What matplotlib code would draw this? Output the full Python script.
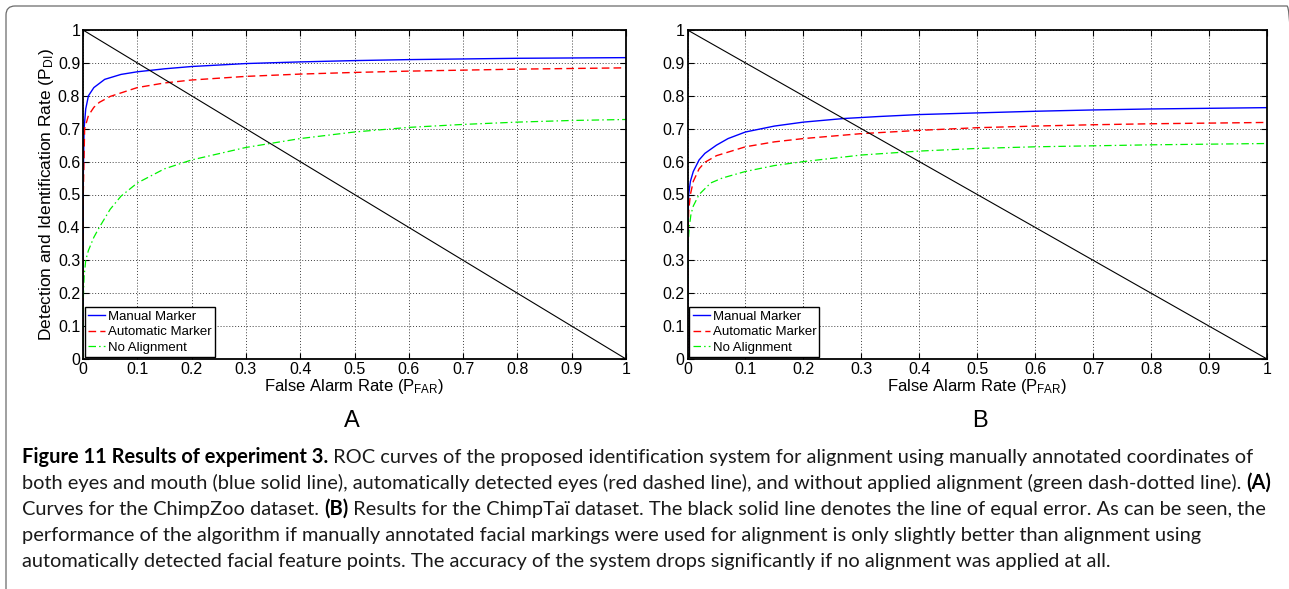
import matplotlib
matplotlib.use("Agg")
import matplotlib.pyplot as plt
import numpy as np
from matplotlib.transforms import IdentityTransform
from matplotlib.patches import FancyBboxPatch

# ---------------- data ----------------
# Panel A (ChimpZoo)
a_manual_x = [0, 0.0005, 0.002, 0.005, 0.01, 0.02, 0.04, 0.07, 0.1, 0.15, 0.2, 0.3, 0.4, 0.5, 0.6, 0.7, 0.8, 0.9, 1.0]
a_manual_y = [0, 0.55, 0.70, 0.76, 0.80, 0.825, 0.85, 0.865, 0.873, 0.882, 0.889, 0.898, 0.903, 0.907, 0.910, 0.912, 0.914, 0.915, 0.916]
a_auto_x = [0, 0.0005, 0.003, 0.01, 0.02, 0.03, 0.05, 0.1, 0.15, 0.2, 0.3, 0.4, 0.5, 0.6, 0.7, 0.8, 0.9, 1.0]
a_auto_y = [0, 0.50, 0.70, 0.74, 0.765, 0.78, 0.798, 0.825, 0.839, 0.848, 0.859, 0.866, 0.871, 0.875, 0.878, 0.881, 0.883, 0.885]
a_none_x = [0, 0.0005, 0.002, 0.005, 0.01, 0.02, 0.03, 0.05, 0.07, 0.1, 0.15, 0.2, 0.3, 0.4, 0.5, 0.6, 0.7, 0.8, 0.9, 1.0]
a_none_y = [0, 0.18, 0.25, 0.30, 0.33, 0.37, 0.40, 0.455, 0.495, 0.535, 0.578, 0.605, 0.643, 0.670, 0.690, 0.704, 0.713, 0.720, 0.725, 0.728]

# Panel B (ChimpTai)
b_manual_x = [0, 0.0005, 0.002, 0.005, 0.01, 0.02, 0.03, 0.05, 0.07, 0.1, 0.15, 0.2, 0.27, 0.33, 0.4, 0.5, 0.6, 0.7, 0.8, 0.9, 1.0]
b_manual_y = [0, 0.40, 0.50, 0.54, 0.57, 0.605, 0.625, 0.65, 0.67, 0.69, 0.708, 0.72, 0.731, 0.737, 0.743, 0.748, 0.753, 0.757, 0.760, 0.762, 0.764]
b_auto_x = [0, 0.0005, 0.002, 0.005, 0.01, 0.02, 0.03, 0.05, 0.1, 0.15, 0.2, 0.3, 0.4, 0.5, 0.6, 0.7, 0.8, 0.9, 1.0]
b_auto_y = [0, 0.35, 0.45, 0.50, 0.54, 0.578, 0.598, 0.618, 0.645, 0.660, 0.670, 0.685, 0.695, 0.703, 0.708, 0.712, 0.715, 0.717, 0.719]
b_none_x = [0, 0.0005, 0.001, 0.003, 0.006, 0.01, 0.02, 0.04, 0.06, 0.1, 0.15, 0.2, 0.3, 0.4, 0.5, 0.6, 0.7, 0.8, 0.9, 1.0]
b_none_y = [0, 0.25, 0.35, 0.40, 0.44, 0.465, 0.50, 0.535, 0.55, 0.57, 0.588, 0.60, 0.62, 0.632, 0.640, 0.645, 0.648, 0.651, 0.653, 0.655]

eer_x = [0, 1]
eer_y = [1, 0]

series_labels = ["Manual Marker", "Automatic Marker", "No Alignment"]
tick_values = [0, 0.1, 0.2, 0.3, 0.4, 0.5, 0.6, 0.7, 0.8, 0.9, 1]
tick_labels = ["0", "0.1", "0.2", "0.3", "0.4", "0.5", "0.6", "0.7", "0.8", "0.9", "1"]
panel_letters = ["A", "B"]

caption_lines = [
    [("Figure 11 Results of experiment 3.", "bold"),
     (" ROC curves of the proposed identification system for alignment using manually annotated coordinates of", "normal")],
    [("both eyes and mouth (blue solid line), automatically detected eyes (red dashed line), and without applied alignment (green dash-dotted line). ", "normal"),
     ("(A)", "bold")],
    [("Curves for the ChimpZoo dataset. ", "normal"), ("(B)", "bold"),
     (" Results for the ChimpTaï dataset. The black solid line denotes the line of equal error. As can be seen, the", "normal")],
    [("performance of the algorithm if manually annotated facial markings were used for alignment is only slightly better than alignment using", "normal")],
    [("automatically detected facial feature points. The accuracy of the system drops significantly if no alignment was applied at all.", "normal")],
]

# ---------------- style ----------------
plt.rcParams['font.family'] = ['Liberation Sans', 'DejaVu Sans']
plt.rcParams['mathtext.fontset'] = 'custom'
plt.rcParams['mathtext.rm'] = 'Liberation Sans'
plt.rcParams['mathtext.it'] = 'Liberation Sans'

W, H = 1289, 589
fig = plt.figure(figsize=(W / 100, H / 100), dpi=100)

# outer rounded frame (display coords, origin bottom-left)
frame = FancyBboxPatch((6, -20), 1290, H - 6 + 20, boxstyle="round,pad=0,rounding_size=9",
                       transform=IdentityTransform(), fill=False, edgecolor="#6a6a6a",
                       linewidth=0.9)
fig.patches.append(frame)

ax_positions = [
    [83 / W, 1 - 359 / H, (626 - 83) / W, (359 - 30) / H],
    [687.5 / W, 1 - 359 / H, (1267 - 687.5) / W, (359 - 30) / H],
]
panels = [
    (a_manual_x, a_manual_y, a_auto_x, a_auto_y, a_none_x, a_none_y),
    (b_manual_x, b_manual_y, b_auto_x, b_auto_y, b_none_x, b_none_y),
]
letter_x = [352, 980]

for i, (pos, data) in enumerate(zip(ax_positions, panels)):
    ax = fig.add_axes(pos)
    mx, my, ax_, ay, nx, ny = data
    ax.plot(mx, my, color=(0, 0, 1), lw=1.0, label=series_labels[0])
    ax.plot(ax_, ay, color=(1, 0, 0), lw=1.0, linestyle=(0, (5.5, 3)), label=series_labels[1])
    ax.plot(nx, ny, color=(0, 0.95, 0), lw=0.9, linestyle=(0, (6, 2.5, 1.2, 2.5)), label=series_labels[2])
    ax.plot(eer_x, eer_y, color="black", lw=0.8)
    ax.set_xlim(0, 1)
    ax.set_ylim(0, 1)
    ax.set_xticks(tick_values)
    ax.set_xticklabels(tick_labels)
    ax.set_yticks(tick_values)
    ax.set_yticklabels(tick_labels)
    ax.grid(True, color="0.25", linestyle=(0, (1, 2)), linewidth=0.7)
    ax.tick_params(direction="in", length=4, width=0.8, labelsize=11.5, pad=2,
                   top=True, right=True)
    for s in ax.spines.values():
        s.set_linewidth(1.3)
    ax.set_xlabel(r"False Alarm Rate (P$_{\mathrm{FAR}}$)", fontsize=12, labelpad=0)
    if i == 0:
        ax.set_ylabel(r"Detection and Identification Rate (P$_{\mathrm{DI}}$)", fontsize=12.5, labelpad=1)
    leg = ax.legend(loc="lower left", fontsize=9.5, handlelength=1.3, handletextpad=0.2,
                    labelspacing=0.25, borderpad=0.25, borderaxespad=0.15,
                    fancybox=False, framealpha=1, edgecolor="black")
    leg.get_frame().set_linewidth(1.0)
    fig.text(letter_x[i], H - 421, panel_letters[i], transform=IdentityTransform(),
             ha="center", va="center", fontsize=17)

# ---------------- caption ----------------
cap_font = ['Lato', 'DejaVu Sans']
renderer = fig.canvas.get_renderer()

def line_width(segments, size):
    total = 0
    for txt, wt in segments:
        t = fig.text(0, 0, txt, fontsize=size, fontweight=wt, family=cap_font,
                     transform=IdentityTransform())
        total += t.get_window_extent(renderer).width
        t.remove()
    return total

base = 12
w0 = max(line_width(caption_lines[k], base) for k in range(3))
cap_size = base * (1268 - 22) / w0

baselines = [463, 489, 515, 541, 567]
for segs, yb in zip(caption_lines, baselines):
    x = 22
    for txt, wt in segs:
        t = fig.text(x, H - yb, txt, fontsize=cap_size, fontweight=wt, family=cap_font,
                     color="#1a1a1a" if wt == "normal" else "black",
                     transform=IdentityTransform(), ha="left", va="baseline")
        x += t.get_window_extent(renderer).width

fig.savefig("out.png", dpi=100)
